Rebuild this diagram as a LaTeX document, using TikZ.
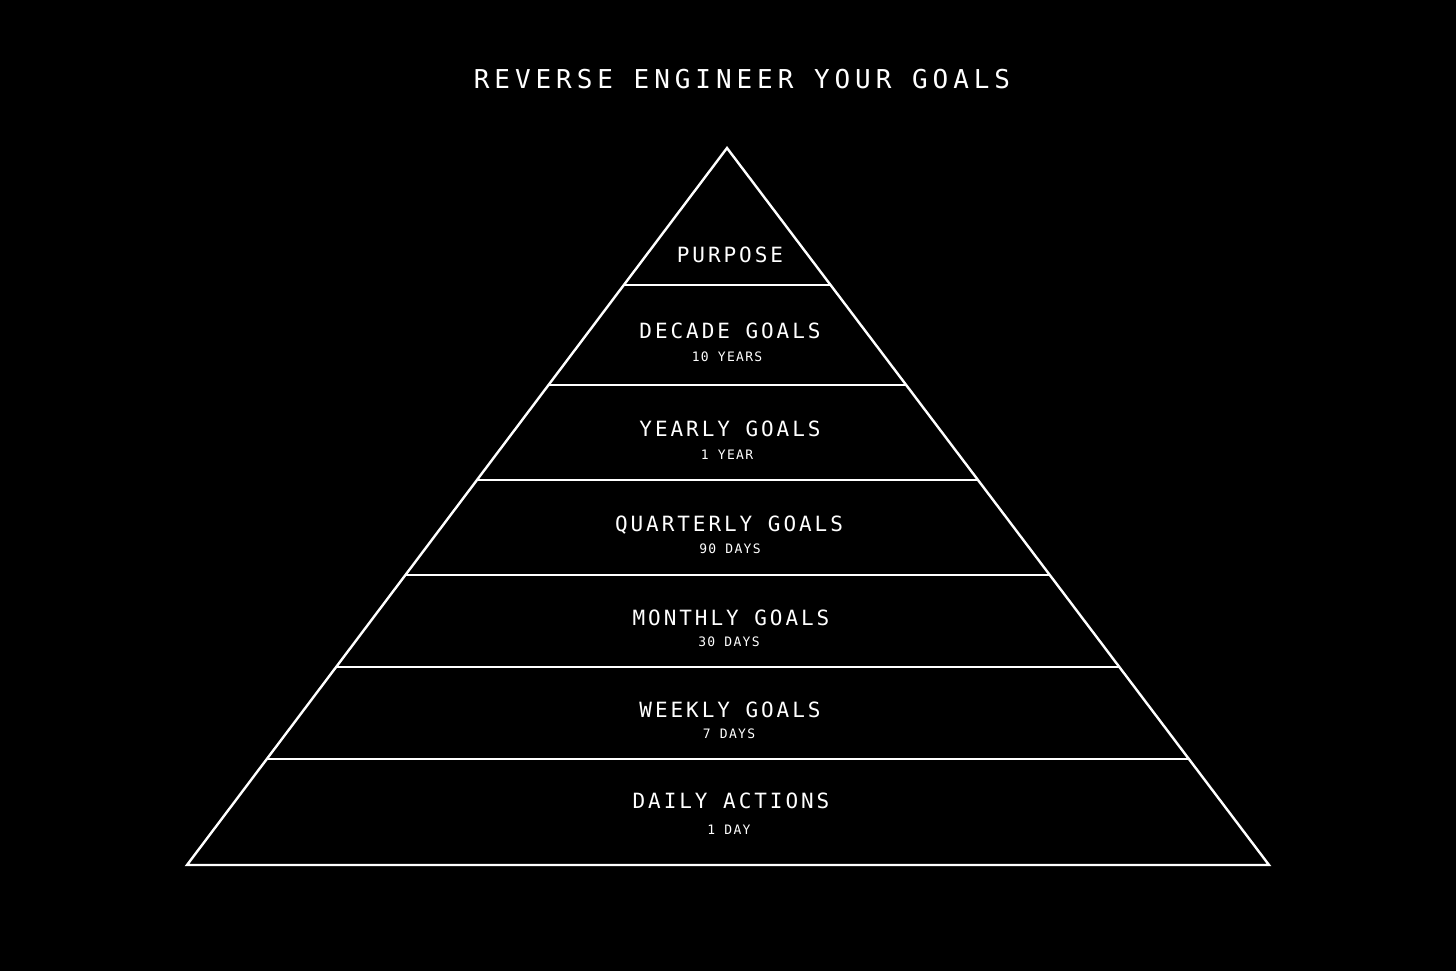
\documentclass[tikz,border=0pt]{standalone}
\usepackage{fontspec}
\usetikzlibrary{calc}
\newfontfamily\titlefont[LetterSpace=19]{DejaVu Sans Mono}
\newfontfamily\labfont[LetterSpace=14]{DejaVu Sans Mono}
\newfontfamily\subfont[LetterSpace=10]{DejaVu Sans Mono}
\begin{document}
\begin{tikzpicture}[x=1pt,y=-1pt,
  edge/.style={draw=white,line width=2.4pt},
  title/.style={text=white,inner sep=0pt,font=\titlefont\fontsize{26}{30}\selectfont},
  lab/.style={text=white,inner sep=0pt,font=\labfont\fontsize{21}{24}\selectfont},
  sub/.style={text=white,inner sep=0pt,font=\subfont\fontsize{13}{15}\selectfont}]
\fill[black] (0,0) rectangle (1456,971);
\useasboundingbox (0,0) rectangle (1456,971);
\coordinate (A) at (727,148);
\coordinate (BL) at (187,865);
\coordinate (BR) at (1269,865);
\draw[edge,line join=miter] (A) -- (BL) -- (BR) -- cycle;
\foreach \t [count=\i] in {0.1911,0.3305,0.4630,0.5955,0.7238,0.8522}{
  \coordinate (L\i) at ($(A)!\t!(BL)$);
  \coordinate (R\i) at ($(A)!\t!(BR)$);
  \draw[edge] (L\i) -- (R\i);
}
\node[title] (t) at (742,79) {REVERSE ENGINEER YOUR GOALS};
\node[lab] (p) at (730,255) {PURPOSE};
\node[lab] (d) at (730,331) {DECADE GOALS};
\node[sub] (ds) at (727,357) {10 YEARS};
\node[lab] (y) at (730,429) {YEARLY GOALS};
\node[sub] (ys) at (727,455) {1 YEAR};
\node[lab] (q) at (729,525) {QUARTERLY GOALS};
\node[sub] (qs) at (730,549) {90 DAYS};
\node[lab] (m) at (731,618) {MONTHLY GOALS};
\node[sub] (ms) at (729,642) {30 DAYS};
\node[lab] (w) at (730,710) {WEEKLY GOALS};
\node[sub] (ws) at (729,734) {7 DAYS};
\node[lab] (da) at (731,801) {DAILY ACTIONS};
\node[sub] (das) at (729,830) {1 DAY};
\end{tikzpicture}
\end{document}
